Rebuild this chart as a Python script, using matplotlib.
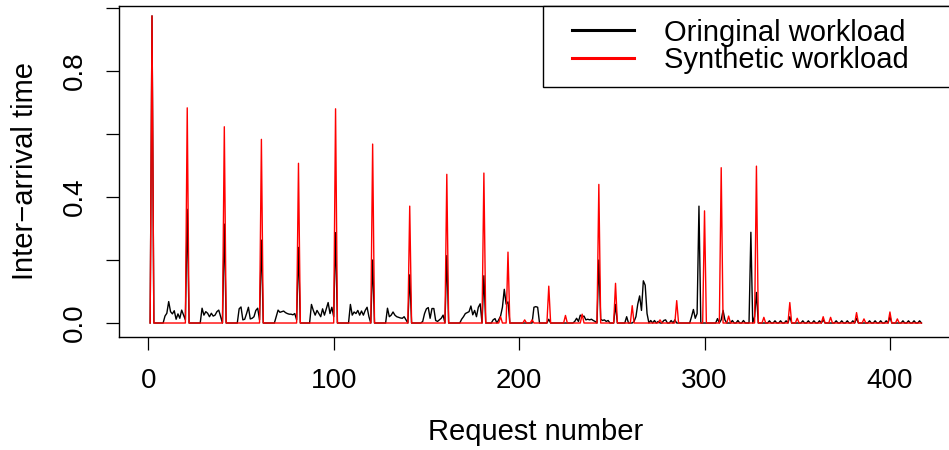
import numpy as np
import matplotlib
matplotlib.use("Agg")
import matplotlib.pyplot as plt
from matplotlib.lines import Line2D
from matplotlib.legend_handler import HandlerLine2D

plt.rcParams['font.family'] = ['Liberation Sans', 'DejaVu Sans']
plt.rcParams['axes.unicode_minus'] = True

n_requests = 417

# Original workload: non-zero points (request number -> inter-arrival time)
orig_idx = [2, 9, 10, 11, 12, 13, 14, 15, 16, 17, 18, 19, 20, 21,
            29, 30, 31, 32, 33, 34, 35, 36, 37, 38, 39, 41,
            49, 50, 51, 52, 53, 54, 55, 56, 57, 58, 59, 60, 61,
            69, 70, 71, 72, 73, 74, 75, 76, 77, 78, 79, 80, 81,
            88, 89, 90, 91, 92, 93, 94, 95, 96, 97, 98, 99, 100, 101,
            109, 110, 111, 112, 113, 114, 115, 116, 117, 118, 119, 121,
            129, 130, 131, 132, 133, 134, 135, 136, 137, 138, 139, 141,
            148, 149, 150, 151, 152, 153, 154, 155, 156, 157, 158, 159, 161,
            169, 170, 171, 172, 173, 174, 175, 176, 177, 178, 179, 181,
            186, 187, 189, 190, 191, 192, 193, 194,
            208, 209, 210, 216,
            230, 231, 232, 233, 234, 235, 236, 237, 238, 239, 240, 241, 243,
            244, 245, 246, 247, 248, 252, 258,
            262, 263, 264, 265, 266, 267, 268, 269,
            271, 273, 275, 278, 279, 282, 284,
            293, 294, 295, 296, 297,
            307, 309, 310, 311, 315, 318, 321, 325, 327, 328,
            335, 338, 341, 344, 346, 353, 356, 359, 362, 364,
            371, 374, 377, 380, 382, 389, 392, 395, 398, 400,
            407, 410, 413, 416]
orig_val = [0.975, 0.022, 0.031, 0.068, 0.036, 0.029, 0.039, 0.012, 0.029, 0.015, 0.041, 0.025, 0.010, 0.361,
            0.047, 0.025, 0.036, 0.031, 0.020, 0.031, 0.022, 0.025, 0.036, 0.041, 0.020, 0.314,
            0.045, 0.051, 0.010, 0.012, 0.030, 0.050, 0.013, 0.015, 0.020, 0.040, 0.047, 0.010, 0.263,
            0.020, 0.041, 0.034, 0.036, 0.038, 0.033, 0.030, 0.028, 0.028, 0.026, 0.030, 0.010, 0.240,
            0.059, 0.040, 0.025, 0.040, 0.030, 0.020, 0.045, 0.025, 0.045, 0.065, 0.030, 0.050, 0.020, 0.287,
            0.059, 0.025, 0.035, 0.030, 0.040, 0.025, 0.038, 0.025, 0.040, 0.050, 0.020, 0.200,
            0.047, 0.020, 0.025, 0.035, 0.025, 0.020, 0.018, 0.016, 0.015, 0.020, 0.010, 0.153,
            0.005, 0.030, 0.045, 0.049, 0.015, 0.046, 0.046, 0.008, 0.005, 0.010, 0.015, 0.025, 0.214,
            0.012, 0.020, 0.030, 0.033, 0.036, 0.054, 0.026, 0.040, 0.020, 0.050, 0.061, 0.150,
            0.010, 0.014, 0.010, 0.022, 0.050, 0.107, 0.060, 0.067,
            0.050, 0.052, 0.050, 0.012,
            0.005, 0.015, 0.005, 0.025, 0.020, 0.022, 0.010, 0.012, 0.010, 0.012, 0.008, 0.005, 0.200,
            0.012, 0.008, 0.010, 0.005, 0.008, 0.059, 0.020,
            0.005, 0.020, 0.060, 0.086, 0.040, 0.134, 0.120, 0.030,
            0.008, 0.008, 0.005, 0.008, 0.010, 0.008, 0.010,
            0.020, 0.043, 0.015, 0.030, 0.371,
            0.014, 0.010, 0.040, 0.010, 0.008, 0.008, 0.008, 0.288, 0.020, 0.097,
            0.007, 0.007, 0.007, 0.007, 0.020, 0.007, 0.007, 0.007, 0.007, 0.010,
            0.007, 0.007, 0.007, 0.007, 0.015, 0.007, 0.007, 0.007, 0.007, 0.020,
            0.007, 0.007, 0.007, 0.007]

# Synthetic workload: non-zero points
synth_idx = [2, 21, 41, 61, 81, 101, 121, 141, 161, 181, 190, 194, 203, 207,
             216, 225, 234, 243, 252, 261, 276, 285, 300, 309, 313, 328, 332,
             346, 350, 364, 368, 382, 386, 400, 404]
synth_val = [0.975, 0.683, 0.623, 0.583, 0.507, 0.680, 0.568, 0.371, 0.472, 0.476, 0.020, 0.225, 0.010, 0.010,
             0.117, 0.024, 0.028, 0.440, 0.126, 0.055, 0.010, 0.071, 0.356, 0.493, 0.022, 0.498, 0.018,
             0.065, 0.015, 0.020, 0.018, 0.033, 0.013, 0.035, 0.013]

x = np.arange(1, n_requests + 1)
original = np.zeros(n_requests)
original[np.array(orig_idx) - 1] = orig_val
synthetic = np.zeros(n_requests)
synthetic[np.array(synth_idx) - 1] = synth_val

W, H = 949, 450
fig = plt.figure(figsize=(W / 100, H / 100), dpi=100)
left_px, right_px, top_px, bottom_px = 119.3, 952.3, 6.0, 337.0
ax = fig.add_axes([left_px / W, 1 - bottom_px / H, (right_px - left_px) / W, (bottom_px - top_px) / H])

ax.plot(x, original, color='black', lw=1.0)
ax.plot(x, synthetic, color='#FF0000', lw=1.0)

ax.set_xlim(-15.64, 433.64)
ax.set_ylim(-0.0444, 1.0063)

ax.set_xticks([0, 100, 200, 300, 400])
ax.set_yticks([0.0, 0.2, 0.4, 0.6, 0.8, 1.0])
ax.set_yticklabels(['0.0', '', '0.4', '', '0.8', ''])
ax.tick_params(axis='both', direction='out', length=9.4, width=0.9, colors='black', labelsize=20)
ax.tick_params(axis='x', pad=13)
ax.tick_params(axis='y', pad=13)
for lbl in ax.get_yticklabels():
    lbl.set_rotation(90)
    lbl.set_va('center')
for sp in ax.spines.values():
    sp.set_linewidth(1.0)

ax.set_xlabel('Request number', fontsize=21)
ax.set_ylabel('Inter\u2212arrival time', fontsize=21)
ax.xaxis.set_label_coords(0.5, -0.245)
ax.yaxis.set_label_coords(-0.0964, 0.5)

fs = 21
fs_px = fs * 100 / 72
bpad = 0.43
x0 = (543 - left_px) / (right_px - left_px)
handles = [Line2D([], [], color='black', lw=2.2), Line2D([], [], color='#FF0000', lw=2.2)]
xpad_px = 28.7 - bpad * fs_px
leg = ax.legend(handles, ['Oringinal workload', 'Synthetic workload'],
                loc='upper left', bbox_to_anchor=(x0, 0.0, 1 - x0, 1.0), mode='expand',
                borderaxespad=0, fontsize=fs, frameon=True, fancybox=False,
                edgecolor='black', framealpha=1, borderpad=bpad, labelspacing=-0.02,
                handlelength=(62 + xpad_px) / fs_px, handletextpad=30 / fs_px,
                handler_map={Line2D: HandlerLine2D(xpad=xpad_px / fs_px)})
leg.get_frame().set_linewidth(1.0)

fig.savefig('out.png', dpi=100)
